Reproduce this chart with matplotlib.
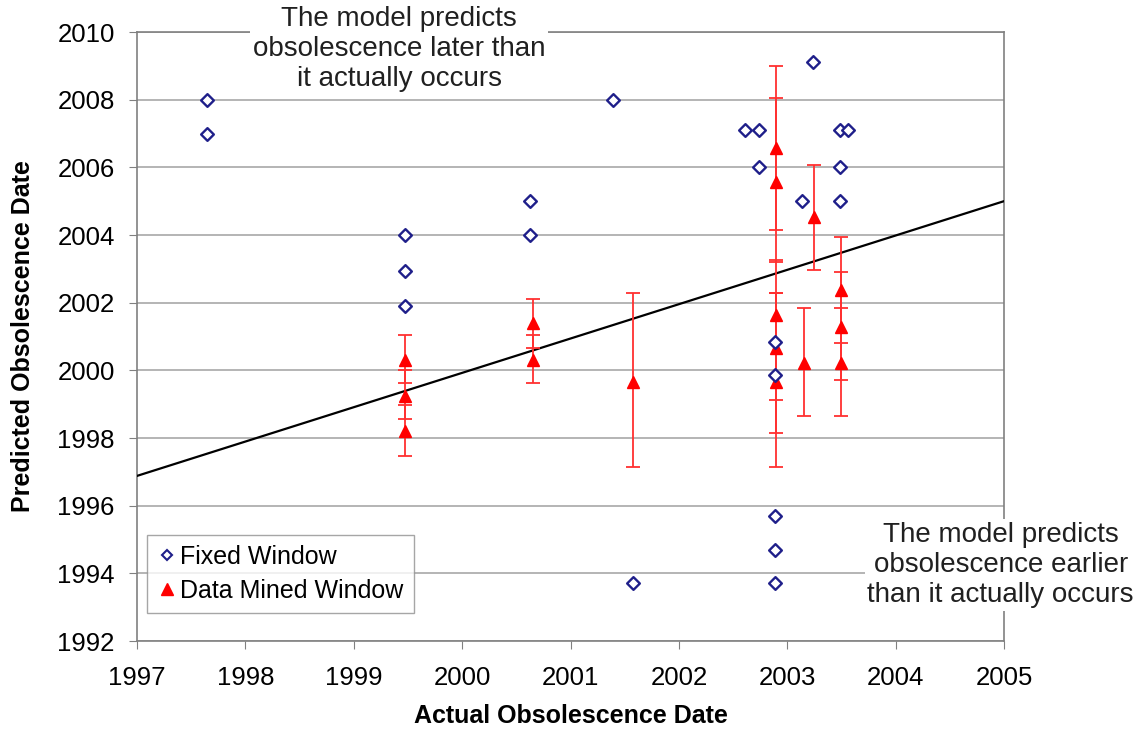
import numpy as np
import matplotlib.pyplot as plt
from matplotlib.lines import Line2D

plt.rcParams['font.family'] = ['Liberation Sans', 'DejaVu Sans']

# Fixed window predictions
fixed_x = [1997.65, 1997.65, 1999.47, 1999.47, 1999.47, 2000.63, 2000.63,
           2001.39, 2001.58, 2002.61, 2002.74, 2002.74,
           2002.89, 2002.89, 2002.89, 2002.89, 2002.89,
           2003.14, 2003.24, 2003.49, 2003.56, 2003.49, 2003.49]
fixed_y = [2008.0, 2007.0, 2004.0, 2002.95, 2001.9, 2005.0, 2004.0,
           2008.0, 1993.7, 2007.1, 2007.1, 2006.0,
           2000.85, 1999.85, 1995.7, 1994.7, 1993.7,
           2005.0, 2009.1, 2007.1, 2007.1, 2006.0, 2005.0]

# Data mined window predictions with their ranges
mined_x = [1999.47, 1999.47, 1999.47, 2000.65, 2000.65, 2001.58,
           2002.9, 2002.9, 2002.9, 2002.9, 2002.9,
           2003.15, 2003.25, 2003.5, 2003.5, 2003.5]
mined_y = [2000.3, 1999.25, 1998.2, 2001.4, 2000.3, 1999.66,
           2006.57, 2005.57, 2001.64, 2000.66, 1999.66,
           2000.22, 2004.53, 2002.38, 2001.28, 2000.22]
mined_lo = [1999.63, 1998.56, 1997.47, 2000.66, 1999.63, 1997.14,
            2004.15, 2003.2, 1999.12, 1998.15, 1997.14,
            1998.65, 2002.97, 2000.8, 1999.7, 1998.65]
mined_hi = [2001.05, 2000.01, 1998.98, 2002.1, 2001.05, 2002.29,
            2009.0, 2008.05, 2003.25, 2002.29, 2002.29,
            2001.84, 2006.07, 2003.94, 2002.9, 2001.84]

# Trend line
fit_intercept = 1996.88
fit_slope = 1.015

diamond_color = '#1f1f8a'

fig = plt.figure(figsize=(11.42, 7.29), dpi=100)
ax = fig.add_axes([137 / 1142, 1 - 641 / 729, (1004 - 137) / 1142, (641 - 32) / 729])

ax.set_xlim(1997, 2005)
ax.set_ylim(1992, 2010)
ax.set_xticks(np.arange(1997, 2006, 1))
ax.set_yticks(np.arange(1992, 2011, 2))
ax.yaxis.grid(True, color='#a8a8a8', linewidth=1.2)
ax.set_axisbelow(True)
for s in ax.spines.values():
    s.set_color('#808080')
    s.set_linewidth(1.2)
ax.tick_params(direction='out', length=6, color='#808080', labelsize=18.5)
ax.tick_params(axis='x', pad=12)
ax.tick_params(axis='y', pad=10)

xs = np.array([1997, 2005])
ax.plot(xs, fit_intercept + fit_slope * (xs - 1997), color='black', lw=1.6, zorder=3)

my = np.array(mined_y)
yerr = [my - np.array(mined_lo), np.array(mined_hi) - my]
ax.errorbar(mined_x, mined_y, yerr=yerr, fmt='^', color='red', ms=8.5,
            ecolor='#ff3030', elinewidth=1.3, capsize=5, capthick=1.3, zorder=4)
ax.scatter(fixed_x, fixed_y, marker='D', s=42, facecolor='white',
           edgecolor=diamond_color, linewidth=1.7, zorder=5)

# legend shows only the markers, not the error bars
handles = [
    Line2D([], [], marker='D', ls='none', ms=5.5, mfc='white', mec=diamond_color, mew=1.5),
    Line2D([], [], marker='^', ls='none', ms=8, color='red'),
]
leg = ax.legend(handles, ['Fixed Window', 'Data Mined Window'], loc='lower left',
                bbox_to_anchor=(0.011, 0.046), fontsize=18, frameon=True,
                fancybox=False, borderpad=0.4, handletextpad=0.15,
                handlelength=0.8, labelspacing=0.4, borderaxespad=0)
leg.get_frame().set_edgecolor('#909090')
leg.get_frame().set_linewidth(1.0)

ax.set_xlabel('Actual Obsolescence Date', fontsize=18, fontweight='bold', labelpad=10)
ax.set_ylabel('Predicted Obsolescence Date', fontsize=18, fontweight='bold', labelpad=16)

ax.text(1999.42, 2009.5, 'The model predicts\nobsolescence later than\nit actually occurs',
        ha='center', va='center', fontsize=20, linespacing=1.2, color='#202020',
        bbox=dict(facecolor='white', edgecolor='none', pad=2), zorder=6, clip_on=False)
ax.text(2004.97, 1994.25, 'The model predicts\nobsolescence earlier\nthan it actually occurs',
        ha='center', va='center', fontsize=20, linespacing=1.2, color='#202020',
        bbox=dict(facecolor='white', edgecolor='none', pad=2), zorder=6, clip_on=False)

fig.savefig('out.png', dpi=100)
